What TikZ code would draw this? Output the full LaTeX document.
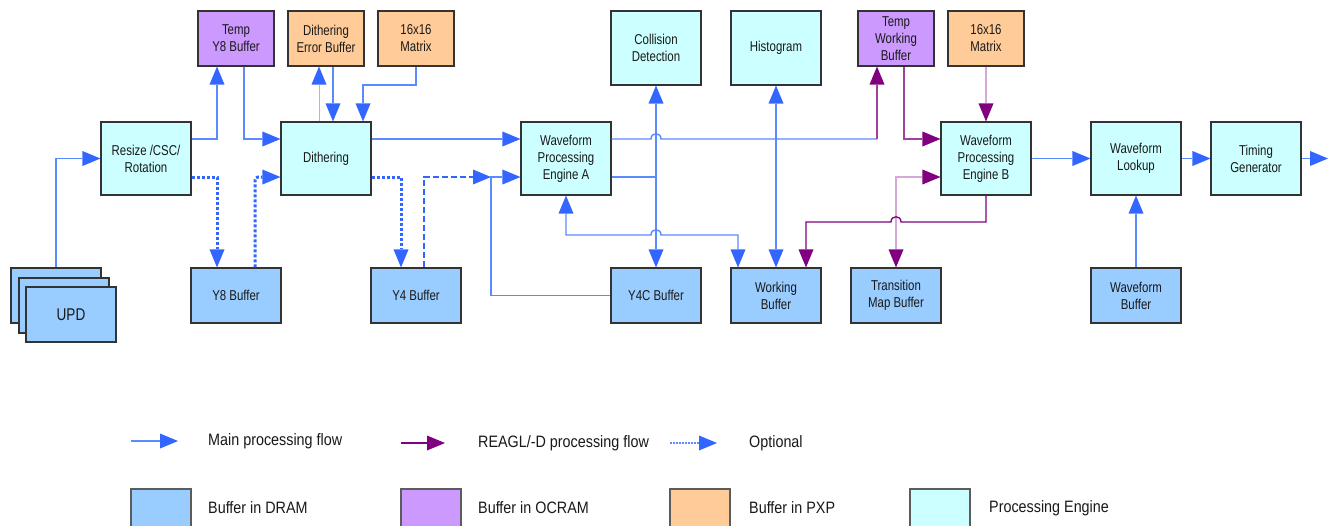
\documentclass[tikz,border=0pt]{standalone}
\usepackage{fontspec}
\setmainfont{Liberation Sans}
\newfontfamily\boxfont{Liberation Sans}[FakeStretch=0.8]
\newfontfamily\legfont{Liberation Sans}[FakeStretch=0.87]
\usetikzlibrary{arrows.meta}
\definecolor{engcol}{HTML}{CCFFFF}
\definecolor{dramcol}{HTML}{99CCFF}
\definecolor{ocramcol}{HTML}{CC99FF}
\definecolor{pxpcol}{HTML}{FFCC99}
\definecolor{arrowblue}{HTML}{3366FF}
\definecolor{lineblue}{HTML}{5B8AFF}
\definecolor{lightblue}{HTML}{9DB8FF}
\definecolor{purp}{HTML}{800080}
\definecolor{midpurp}{HTML}{A040A0}
\definecolor{lightpurp}{HTML}{D8A8D8}
\definecolor{boxborder}{HTML}{333333}
\tikzset{
  bt/.tip={Triangle[length=18pt,width=15pt,color=arrowblue,line width=0pt]},
  ptp/.tip={Triangle[length=18pt,width=15pt,color=purp,line width=0pt]},
  box/.style={draw=boxborder, line width=1.1pt, inner sep=0pt, align=center,
    font=\boxfont\fontsize{14.3}{17}\selectfont, text=black!90},
  eng/.style={box, fill=engcol, minimum width=90pt, minimum height=73pt},
  dram/.style={box, fill=dramcol, minimum width=90pt, minimum height=55pt},
  ocram/.style={box, fill=ocramcol, minimum width=76pt, minimum height=55pt},
  pxp/.style={box, fill=pxpcol, minimum width=76pt, minimum height=55pt},
  main/.style={draw=lineblue, line width=1.4pt, -{bt}},
  mainboth/.style={draw=lineblue, line width=1.4pt, {bt}-{bt}},
  mainplain/.style={draw=lineblue, line width=1.4pt},
  lightmain/.style={draw=lightblue, line width=1pt, -{bt}},
  dotflow/.style={draw=arrowblue, line width=3pt, dash pattern=on 3pt off 2pt, -{bt}},
  dashflow/.style={draw=arrowblue, line width=2pt, dash pattern=on 6pt off 3pt, -{bt}},
  purpflow/.style={draw=purp, line width=1.3pt, -{ptp}},
  midpurpflow/.style={draw=midpurp, line width=1.1pt, -{ptp}},
  lightpurpflow/.style={draw=lightpurp, line width=1.1pt, -{ptp}},
  lightpurpboth/.style={draw=lightpurp, line width=1.1pt, {ptp}-{ptp}},
  legtext/.style={anchor=west, inner sep=0pt, font=\legfont\fontsize{16.5}{19}\selectfont, text=black!90},
  legbox/.style={draw=boxborder!80, line width=1.1pt, minimum width=60pt, minimum height=42pt, inner sep=0pt},
}
\begin{document}
\begin{tikzpicture}[x=1pt,y=-1pt]
\useasboundingbox (0,0) rectangle (1328,525);
\clip (0,0) rectangle (1328,525);
\fill[white] (0,0) rectangle (1328,525);

% nodes
\node[ocram] (tempy8) at (236,38.5) {Temp\\Y8 Buffer};
\node[pxp] (errbuf) at (326,38.5) {Dithering\\Error Buffer};
\node[pxp] (mat1) at (416,38.5) {16x16\\Matrix};
\node[eng] (resize) at (146,158.5) {Resize /CSC/\\Rotation};
\node[eng] (dith) at (326,158.5) {Dithering};
\node[dram] (y8) at (236,295.5) {Y8 Buffer};
\node[dram] (y4) at (416,295.5) {Y4 Buffer};
\node[dram] (upd3) at (56,295.5) {};
\node[dram] (upd2) at (64,305.5) {};
\node[dram, font=\boxfont\fontsize{17}{20}\selectfont] (upd1) at (71,314.5) {UPD};
\node[eng] (wpea) at (566,158.5) {Waveform\\Processing\\Engine A};
\node[eng,minimum height=74pt] (coll) at (656,48) {Collision\\Detection};
\node[eng,minimum height=74pt] (hist) at (776,48) {Histogram};
\node[ocram] (twb) at (896,38.5) {Temp\\Working\\Buffer};
\node[dram] (y4c) at (656,295.5) {Y4C Buffer};
\node[dram] (work) at (776,295.5) {Working\\Buffer};
\node[dram] (trans) at (896,295.5) {Transition\\Map Buffer};
\node[eng] (wpeb) at (986,158.5) {Waveform\\Processing\\Engine B};
\node[pxp] (mat2) at (986,38.5) {16x16\\Matrix};
\node[eng] (wl) at (1136,158.5) {Waveform\\Lookup};
\node[eng] (tg) at (1256,158.5) {Timing\\Generator};
\node[dram] (wbuf) at (1136,295.5) {Waveform\\Buffer};

% left part
\draw[main] (upd3.north) |- (resize.west);
\draw[main] (resize.east |- 0,139) -| (tempy8.south -| 217,0);
\draw[main] (tempy8.south -| 244,0) |- (dith.west |- 0,139);
\draw[lightmain] (dith.north -| 319,0) -- (errbuf.south -| 319,0);
\draw[main] (errbuf.south -| 333,0) -- (dith.north -| 333,0);
\draw[main] (mat1.south) |- (363,85) -- (dith.north -| 363,0);
\draw[dotflow] (resize.east |- 0,177) -| (y8.north -| 217,0);
\draw[dotflow, rounded corners=3pt] (y8.north -| 255,0) |- (dith.west |- 0,177);
\draw[dotflow] (dith.east |- 0,177) -| (y4.north -| 401,0);
\coordinate (ja) at (491,177);
\draw[dashflow] (y4.north -| 424,0) |- (ja);
\draw[main] (dith.east |- 0,139) -- (wpea.west |- 0,139);

% middle part
\coordinate (c1) at (877,139);
\draw[mainplain] (wpea.east |- 0,139) -- (651,139) .. controls (651,132) and (661,132) .. (661,139) -- (c1);
\draw[midpurpflow] (c1) -- (twb.south -| 877,0);
\draw[mainplain] (wpea.east |- 0,177) -- (656,177);
\draw[mainboth] (coll.south) -- (y4c.north);
\draw[main] (y4c.west) -| (ja) -- (wpea.west |- 0,177);
\draw[mainboth] (work.north -| 738,0) |- (661,235) .. controls (661,228) and (651,228) .. (651,235) -| (wpea.south);
\draw[mainboth] (hist.south) -- (work.north);

% right part
\draw[lightpurpboth] (trans.north) |- (wpeb.west |- 0,177);
\draw[purpflow] (wpeb.south) |- (901,222) .. controls (901,215) and (891,215) .. (891,222) -| (work.north -| 806,0);
\draw[midpurpflow] (twb.south -| 904,0) |- (wpeb.west |- 0,139);
\draw[lightpurpflow] (mat2.south -| 986,0) -- (wpeb.north);
\draw[main] (wpeb.east) -- (wl.west);
\draw[main] (wl.east) -- (tg.west);
\coordinate (out) at (1328,158.5);
\draw[main] (tg.east) -- (out);
\draw[main] (wbuf.north) -- (wl.south);

% legend
\coordinate (la1) at (131,441); \coordinate (lb1) at (178,441);
\draw[main] (la1) -- (lb1);
\node[legtext] (lt1) at (208,441) {Main processing flow};
\coordinate (la2) at (401,443); \coordinate (lb2) at (445,443);
\draw[purpflow] (la2) -- (lb2);
\node[legtext] (lt2) at (478,443) {REAGL/-D processing flow};
\coordinate (la3) at (670,443); \coordinate (lb3) at (717,443);
\draw[draw=lineblue, line width=1.5pt, dash pattern=on 1.5pt off 1.5pt, -{bt}] (la3) -- (lb3);
\node[legtext] (lt3) at (749,443) {Optional};

\node[legbox, fill=dramcol] (s1) at (161,510) {};
\node[legtext] (st1) at (208,508) {Buffer in DRAM};
\node[legbox, fill=ocramcol] (s2) at (431,510) {};
\node[legtext] (st2) at (478,508) {Buffer in OCRAM};
\node[legbox, fill=pxpcol] (s3) at (700,510) {};
\node[legtext] (st3) at (749,508) {Buffer in PXP};
\node[legbox, fill=engcol] (s4) at (940,510) {};
\node[legtext] (st4) at (989,508) {Processing Engine};
\end{tikzpicture}
\end{document}
